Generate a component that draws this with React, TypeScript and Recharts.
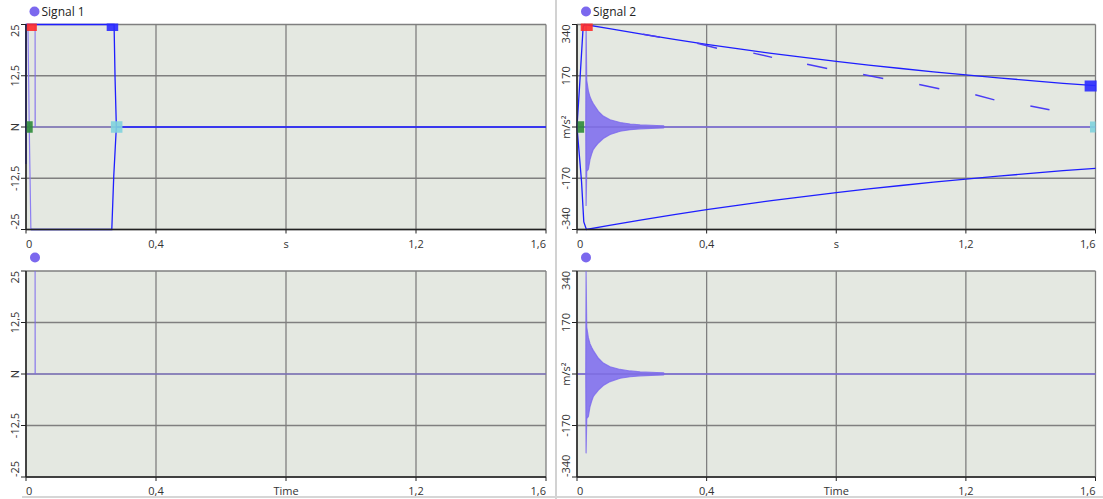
import React from 'react';
import { ComposedChart, Line, Area, XAxis, YAxis, CartesianGrid, ReferenceDot } from 'recharts';

// ---- axis ticks & labels ----
const xTicks = [0, 0.4, 0.8, 1.2, 1.6];
const xLabelsTop = ['0', '0,4', 's', '1,2', '1,6'];
const xLabelsBottom = ['0', '0,4', 'Time', '1,2', '1,6'];
const y1Ticks = [-25, -12.5, 0, 12.5, 25];
const y1Labels = ['-25', '-12,5', 'N', '12,5', '25'];
const y2Ticks = [-340, -170, 0, 170, 340];
const y2Labels = ['-340', '-170', 'm/s²', '170', '340'];

// ---- Signal 1 (short impulse) ----
const sig1T = [0, 0.028, 0.028, 0.0285, 1.6];
const sig1V = [0, 0, 25, 0, 0];

// ---- Signal 2 (decaying oscillation, min/max envelope) ----
const sig2T = [0, 0.027, 0.028, 0.030, 0.035, 0.040, 0.045, 0.050, 0.056, 0.066, 0.081, 0.102, 0.133, 0.164, 0.195, 0.246, 0.267, 0.270, 1.6];
const sig2Hi = [0, 0, 340, 155, 120, 100, 88, 78, 68, 52, 36, 24, 15, 10, 7, 5, 4, 0, 0];
const sig2Lo = [0, 0, -262, -147, -140, -108, -90, -75, -66, -53, -38, -25, -14, -9, -6, -4, -3, 0, 0];

// ---- Signal 1 trace overlay (top panel) ----
const env1T = [0.015, 0.264, 0.270, 0.278, 0.274, 0.271, 0, 0, 0.1, 0.278, 1.6];
const env1V = [-25, -25, -12, 0, 12, 25, 25, -9, null, 0, 0];
const trace1T = [0.015, 0.010, 0.006];
const trace1V = [-25, 0, 25];

// ---- Signal 2 trace overlay (top panel) ----
const env2T = [1.6, 1.5, 1.4, 1.3, 1.2, 1.1, 1.0, 0.9, 0.8, 0.7, 0.6, 0.5, 0.4, 0.3, 0.2, 0.1, 0.024, 0.019, 0.009, 0, 0.014, 0.021, 0.029, 0.1, 0.2, 0.3, 0.4, 0.5, 0.6, 0.7, 0.8, 0.9, 1.0, 1.1, 1.2, 1.3, 1.4, 1.5, 1.6];
const env2V = [137, 145, 154, 163, 173, 183, 194, 205, 218, 231, 244, 259, 274, 291, 308, 326, 340, 333, 154, 0, -181, -315, -340, -326, -308, -291, -274, -259, -244, -231, -218, -205, -194, -183, -173, -163, -154, -145, -137];
const dashT = [0.204, 0.256, 0.30, 0.371, 0.432, 0.49, 0.544, 0.602, 0.65, 0.710, 0.772, 0.83, 0.883, 0.945, 1.0, 1.056, 1.118, 1.17, 1.229, 1.288, 1.34, 1.399, 1.458];
const dashV = [308, 298, null, 278, 261, null, 245, 231, null, 208, 194, null, 174, 161, null, 141, 127, null, 107, 90, null, 70, 57];

// ---- cursor markers (red, green, blue, cyan) ----
const mark1T = [0.018, 0.0114, 0.266, 0.279];
const mark1V = [25, 0, 25, 0];
const mark2T = [0.030, 0.012, 1.585, 1.5915];
const mark2V = [340, 0, 136, 0];
const markColors = ['#ff2b2b', '#2e8b3a', '#2a2aff', '#7fd3de'];
const mark1W = [10, 6, 11.5, 11.5];
const mark1H = [7.5, 11.5, 7.5, 11.5];
const mark1Oy = [-1, -5.75, -1, -5.75];
const mark2W = [12, 6.5, 12, 5.5];
const mark2H = [7.5, 11.5, 11, 11];
const mark2Oy = [-1, -5.75, -5.5, -5.5];

const sig1Data = sig1T.map((t, i) => ({ t, v: sig1V[i] }));
const sig2Data = sig2T.map((t, i) => ({ t, band: [sig2Lo[i], sig2Hi[i]] }));
const env1Data = env1T.map((t, i) => ({ t, v: env1V[i] }));
const trace1Data = trace1T.map((t, i) => ({ t, v: trace1V[i] }));
const env2Data = env2T.map((t, i) => ({ t, v: env2V[i] }));
const dashData = dashT.map((t, i) => ({ t, v: dashV[i] }));

const PURPLE = '#7b68ee';
const BLUE = '#1e1eff';
const FONT = "'Segoe UI', 'Open Sans', sans-serif";
const TXT = '#333';

function XTick(props: any) {
  const { x, y, payload, labels } = props;
  const i = xTicks.indexOf(payload.value);
  const anchor = i === 0 ? 'start' : i === xTicks.length - 1 ? 'end' : 'middle';
  return (
    <text x={x} y={y + 12} textAnchor={anchor} fontSize={11} fill={TXT} fontFamily={FONT}>
      {labels[i]}
    </text>
  );
}

function YTick(props: any) {
  const { x, y, payload, ticks, labels, dx } = props;
  const i = ticks.indexOf(payload.value);
  const anchor = i === ticks.length - 1 ? 'end' : i === 0 ? 'start' : 'middle';
  const bx = x + dx;
  return (
    <text x={bx} y={y} transform={`rotate(-90 ${bx} ${y})`} textAnchor={anchor} fontSize={11} fill={TXT} fontFamily={FONT}>
      {labels[i]}
    </text>
  );
}

function markers(ts: number[], vs: number[], ws: number[], hs: number[], oys: number[]) {
  return ts.map((t, i) => (
    <ReferenceDot
      key={'m' + i}
      x={t}
      y={vs[i]}
      ifOverflow="visible"
      shape={(p: any) => (
        <rect x={p.cx - ws[i] / 2} y={p.cy + oys[i]} width={ws[i]} height={hs[i]} fill={markColors[i]} fillOpacity={0.9} />
      )}
    />
  ));
}

function Panel(props: any) {
  const { left, top, width, height, mTop, mRight, mLeft, yWidth, data, yDomain, yTicks, yLabels, xLabels, dx, children } = props;
  return (
    <div style={{ position: 'absolute', left, top, width, height }}>
      <ComposedChart width={width} height={height} data={data} margin={{ top: mTop, right: mRight, bottom: 0, left: mLeft }}>
        <CartesianGrid stroke="#7f7f7f" strokeWidth={1.3} fill="#e4e8e1" fillOpacity={1} />
        <XAxis
          dataKey="t"
          type="number"
          domain={[0, 1.6]}
          ticks={xTicks}
          interval={0}
          height={20.5}
          tickSize={4}
          tickMargin={2}
          axisLine={{ stroke: '#222', strokeWidth: 1.5 }}
          tickLine={{ stroke: '#222' }}
          tick={(p: any) => <XTick {...p} labels={xLabels} />}
        />
        <YAxis
          type="number"
          domain={yDomain}
          ticks={yTicks}
          interval={0}
          width={yWidth}
          tickSize={5}
          tickMargin={0}
          axisLine={{ stroke: '#222', strokeWidth: 1.5 }}
          tickLine={{ stroke: '#222' }}
          tick={(p: any) => <YTick {...p} ticks={yTicks} labels={yLabels} dx={dx} />}
        />
        {children}
      </ComposedChart>
    </div>
  );
}

export default function App() {
  return (
    <div style={{ position: 'absolute', left: 0, top: 0, width: 1103, height: 499, background: '#fff', overflow: 'hidden', fontFamily: FONT }}>
      <svg width={1103} height={499} style={{ position: 'absolute', left: 0, top: 0 }}>
        <line x1={556} y1={0} x2={556} y2={499} stroke="#d2d2d2" strokeWidth={2} />
        <line x1={22} y1={497} x2={1103} y2={497} stroke="#d6d6d6" strokeWidth={2} />
        <circle cx={34.5} cy={11.5} r={5} fill={PURPLE} />
        <text x={41.5} y={16.3} fontSize={12} fill="#222" fontFamily={FONT}>Signal 1</text>
        <circle cx={586} cy={11.5} r={5} fill={PURPLE} />
        <text x={593} y={16.3} fontSize={12} fill="#222" fontFamily={FONT}>Signal 2</text>
        <circle cx={35} cy={257.5} r={5} fill={PURPLE} />
        <circle cx={586} cy={257.5} r={5} fill={PURPLE} />
      </svg>

      {/* top-left */}
      <Panel left={0} top={0} width={556} height={250} mTop={24.5} mRight={10} mLeft={6} yWidth={20}
        data={sig1Data} yDomain={[-25, 25]} yTicks={y1Ticks} yLabels={y1Labels} xLabels={xLabelsTop} dx={-2}>
        <Line data={sig1Data} dataKey="v" stroke={PURPLE} strokeOpacity={0.8} strokeWidth={1.2} dot={false} activeDot={false} isAnimationActive={false} />
        <Line data={trace1Data} dataKey="v" stroke="#8c7ef2" strokeWidth={1.2} dot={false} activeDot={false} isAnimationActive={false} />
        <Line data={env1Data} dataKey="v" stroke={BLUE} strokeWidth={1.3} dot={false} activeDot={false} isAnimationActive={false} />
        {markers(mark1T, mark1V, mark1W, mark1H, mark1Oy)}
      </Panel>

      {/* top-right */}
      <Panel left={556} top={0} width={547} height={250} mTop={24.5} mRight={7.5} mLeft={0} yWidth={21}
        data={sig2Data} yDomain={[-340, 340]} yTicks={y2Ticks} yLabels={y2Labels} xLabels={xLabelsTop} dx={-2}>
        <Area dataKey="band" type="linear" stroke={PURPLE} strokeOpacity={0.8} strokeWidth={1.2} fill={PURPLE} fillOpacity={0.85} dot={false} activeDot={false} isAnimationActive={false} />
        <Line data={env2Data} dataKey="v" stroke={BLUE} strokeWidth={1.3} dot={false} activeDot={false} isAnimationActive={false} />
        <Line data={dashData} dataKey="v" stroke="#4a3cf5" strokeWidth={1.5} dot={false} activeDot={false} isAnimationActive={false} />
        {markers(mark2T, mark2V, mark2W, mark2H, mark2Oy)}
      </Panel>

      {/* bottom-left */}
      <Panel left={0} top={246} width={556} height={251.5} mTop={25} mRight={10} mLeft={6} yWidth={20}
        data={sig1Data} yDomain={[-25, 25]} yTicks={y1Ticks} yLabels={y1Labels} xLabels={xLabelsBottom} dx={-2}>
        <Line data={sig1Data} dataKey="v" stroke={PURPLE} strokeOpacity={0.8} strokeWidth={1.2} dot={false} activeDot={false} isAnimationActive={false} />
      </Panel>

      {/* bottom-right */}
      <Panel left={556} top={246} width={547} height={251.5} mTop={25} mRight={7.5} mLeft={0} yWidth={21}
        data={sig2Data} yDomain={[-340, 340]} yTicks={y2Ticks} yLabels={y2Labels} xLabels={xLabelsBottom} dx={-2}>
        <Area dataKey="band" type="linear" stroke={PURPLE} strokeOpacity={0.8} strokeWidth={1.2} fill={PURPLE} fillOpacity={0.85} dot={false} activeDot={false} isAnimationActive={false} />
      </Panel>
    </div>
  );
}
